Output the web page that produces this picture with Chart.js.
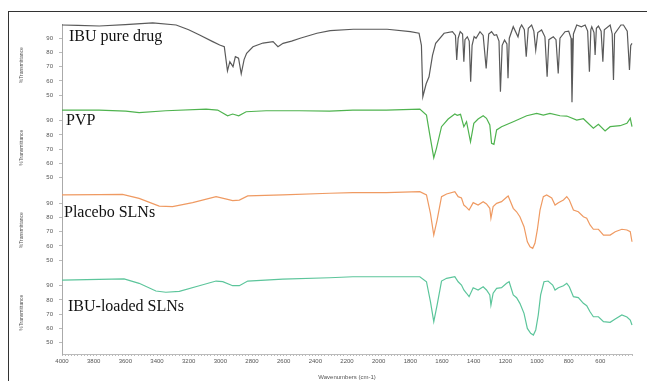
<!DOCTYPE html>
<html>
<head>
<meta charset="utf-8">
<script src="https://cdn.jsdelivr.net/npm/chart.js@4.4.0/dist/chart.umd.min.js"></script>
<style>
  html, body { margin: 0; padding: 0; background: #fff; }
  #wrap { position: relative; width: 647px; height: 381px; overflow: hidden; }
  #frame { position: absolute; left: 8px; top: 11px; width: 700px; height: 400px;
           border-left: 1px solid #333; border-top: 1px solid #333; }
  canvas { position: absolute; left: 0; top: 0; }
</style>
</head>
<body>
<div id="wrap">
  <div id="frame"></div>
  <canvas id="ftir" width="647" height="381"></canvas>
</div>
<script>
// ── Datos (cm-1 / %T) ───────────────────────────────────────────────────────
var ibuWn = [4000,3900,3765,3600,3427,3279,3200,3131,3048,3004,2975,2955,2940,2920,2905,2885,2868,2850,2834,2794,2731,2667,2636,2604,2550,2496,2390,2306,2160,1946,1800,1745,1730,1721,1700,1682,1660,1640,1587,1534,1515,1507,1498,1485,1470,1462,1455,1440,1428,1419,1410,1397,1385,1360,1340,1321,1305,1287,1270,1255,1240,1231,1220,1205,1190,1183,1175,1150,1120,1108,1097,1080,1068,1055,1034,1020,1008,995,971,950,936,925,897,880,866,855,823,800,785,779,770,749,720,696,680,669,660,654,640,633,625,612,595,584,575,538,525,517,510,470,454,430,416,408,400];
var ibuT  = [99.3,99.0,98.6,99.5,100.8,99.3,96,92.3,87.6,85.2,84,67,73.5,70,77,76,65,75,79.4,84,86.6,87.6,84,86.4,88,90,93.5,95.3,96.3,96.3,94.6,93.5,85,48.9,58,62.9,78,86.4,93.5,94.6,92,74.7,90,94.6,93,73.5,89,91,88,59.4,85,91.2,90,94.6,92,68.8,93,94.6,92,92.5,88,52.4,85,88.7,86,61.8,90,98.1,91,97,99.3,96,77,97,99.3,95,81.7,94,95.8,91,62.9,89,91,89,65.3,90,94.6,95,90,45,93,99.3,98,99.3,95,66.5,96,98.1,94,78.2,97,98.6,95,73.5,96,99.3,93,60.6,93,99.3,99.3,95,67.7,85,86.4];

var pvpWn = [4000,3766,3597,3513,3344,3090,3017,2954,2922,2884,2837,2711,2500,2310,2163,1951,1740,1698,1677,1652,1635,1603,1561,1519,1504,1483,1462,1445,1420,1399,1372,1340,1319,1298,1287,1272,1255,1224,1150,1065,1002,960,918,855,812,749,707,644,612,570,538,475,432,411,400];
var pvpT  = [97.5,97.5,96.8,95.7,97,98.2,97.5,93.5,94.7,93.5,96.3,97,97,96.8,97.5,97.5,98.2,94,80,64,70.6,85.8,91.2,94.7,93.8,94.5,85.8,89.3,75.2,88.2,91.2,93.5,91.7,87,74.1,73.4,83.5,85.8,89.3,93.5,95.2,94,95.2,93.5,93.3,90.5,91.4,84.7,87.5,82.8,85.8,86.5,88.2,91.7,85.8];

var plaWn = [4000,3766,3618,3513,3386,3302,3175,3027,2954,2922,2880,2827,2606,2310,2163,1951,1740,1698,1673,1652,1631,1603,1571,1519,1498,1477,1462,1445,1429,1403,1372,1340,1319,1298,1291,1277,1255,1224,1192,1182,1150,1129,1108,1082,1061,1044,1027,1013,998,981,960,939,907,886,865,833,812,796,770,739,707,686,665,644,612,580,538,506,464,432,411,400];
var plaT  = [95.8,96,96.2,93.4,88,87.6,90.4,94.6,92.7,91.8,92.2,95.1,95.8,97,97.4,97.4,98.1,95.8,82.9,67.6,78.2,94.6,96.5,98.1,94.6,93.7,88.7,87.1,85.2,90.4,88.7,91.1,89.5,86.4,79.4,87.6,89.9,91.1,94.2,95.1,86.4,84,80.5,73.5,62.9,59.4,58.3,61.8,71.2,85.2,94.6,95.8,93.7,88.7,90.4,92.3,94.6,92.3,85.2,84,80.5,79.4,74.7,71.7,71.7,67.6,67.6,70,71.7,71.2,70,62.9];

var ldWn = [4000,3766,3608,3513,3407,3344,3259,3133,3027,2985,2922,2880,2827,2606,2310,2163,1951,1740,1698,1673,1652,1631,1603,1571,1519,1498,1477,1462,1445,1429,1403,1372,1340,1319,1298,1291,1277,1255,1224,1192,1176,1150,1129,1108,1082,1061,1040,1023,1008,992,977,956,930,901,886,865,833,812,796,770,739,707,686,665,644,612,580,538,506,464,432,411,400];
var ldT  = [94,94.5,94.8,91.7,86.3,85.4,86,90,93.3,92.9,90,90,93.3,94.7,95.6,96.3,96.3,96.3,92.8,78.8,64.7,76.4,93.3,95.2,96.3,92.8,90.5,87,84.7,82.3,88.6,87,89.3,87,83.5,76.4,84.7,88.2,88.6,91.7,92.8,83.5,81.6,77.6,70.6,60,56.5,55.3,58.9,69.4,83.5,92.8,93.3,90.5,87,88.6,90,91.7,89.3,82.3,81.6,77.6,76,71.7,68.2,68.2,64.7,64.3,66.6,69.4,68,65.9,62.4];

var panelNames = ['IBU pure drug', 'PVP', 'Placebo SLNs', 'IBU-loaded SLNs'];
var xTickLabels = [4000,3800,3600,3400,3200,3000,2800,2600,2400,2200,2000,1800,1600,1400,1200,1000,800,600];
var yTicks = [50, 60, 70, 80, 90];

// ── Estilo ──────────────────────────────────────────────────────────────────
var lineColors   = ['#5a5a5a', '#4fb34f', '#ef9a62', '#5cc59b'];
var labelOffsets = [[7, 13], [4, 14.5], [2, 24], [6, 35.5]];
var smallFont    = '"Liberation Sans", Arial, sans-serif';

function toPoints(wn, t) {
    return wn.map(function (w, i) { return { x: w, y: t[i] }; });
}

function yAxis() {
    return {
        type: 'linear', position: 'left', stack: 'ftir', stackWeight: 1,
        min: 42, max: 100,
        afterBuildTicks: function (ax) { ax.ticks = yTicks.map(function (v) { return { value: v }; }); },
        afterFit: function (ax) { ax.width = 62; },
        grid: { drawOnChartArea: false, tickLength: 3, color: '#bbb' },
        border: { color: '#aaa' },
        ticks: { font: { size: 6, family: smallFont }, color: '#555', padding: 6 },
        title: { display: true, text: '%Transmittance', font: { size: 5, family: smallFont }, color: '#555', padding: { top: 19, bottom: 0 } }
    };
}

var series = [[ibuWn, ibuT], [pvpWn, pvpT], [plaWn, plaT], [ldWn, ldT]];

var panelLabels = {
    id: 'panelLabels',
    afterDatasetsDraw: function (chart) {
        var ctx = chart.ctx;
        ctx.save();
        ctx.font = '16px "Liberation Serif", "Times New Roman", serif';
        ctx.fillStyle = '#111';
        ctx.textBaseline = 'middle';
        panelNames.forEach(function (name, k) {
            var sc = chart.scales['p' + k];
            ctx.fillText(name, chart.chartArea.left + labelOffsets[k][0], sc.top + labelOffsets[k][1]);
        });
        ctx.restore();
    }
};

var scales = {
    x: {
        type: 'linear', position: 'bottom', reverse: true, min: 400, max: 4000,
        afterBuildTicks: function (ax) {
            var t = [];
            for (var v = 4000; v >= 400; v -= 20) t.push({ value: v });
            ax.ticks = t;
        },
        afterFit: function (ax) { ax.height = 27; },
        grid: { drawOnChartArea: false, tickLength: 2, color: '#bbb' },
        border: { color: '#bbb' },
        ticks: {
            autoSkip: false, maxRotation: 0, font: { size: 6, family: smallFont }, color: '#555', padding: 2,
            callback: function (v) { return xTickLabels.indexOf(v) >= 0 ? String(v) : ''; }
        },
        title: { display: true, text: 'Wavenumbers (cm-1)', font: { size: 6, family: smallFont }, color: '#555', padding: { top: 1, bottom: 0 } }
    }
};
// stacked axes are laid out bottom-up, so the last panel goes in first
for (var k = 3; k >= 0; k--) scales['p' + k] = yAxis();

new Chart(document.getElementById('ftir'), {
    type: 'line',
    data: {
        datasets: series.map(function (s, k) {
            return {
                label: panelNames[k],
                data: toPoints(s[0], s[1]),
                xAxisID: 'x',
                yAxisID: 'p' + k,
                borderColor: lineColors[k],
                borderWidth: 1.2,
                pointRadius: 0,
                tension: 0,
                clip: false
            };
        })
    },
    options: {
        responsive: false,
        animation: false,
        layout: { padding: { top: 24, right: 15, left: 0, bottom: 0 } },
        plugins: { legend: { display: false }, tooltip: { enabled: false } },
        scales: scales
    },
    plugins: [panelLabels]
});
</script>
</body>
</html>
